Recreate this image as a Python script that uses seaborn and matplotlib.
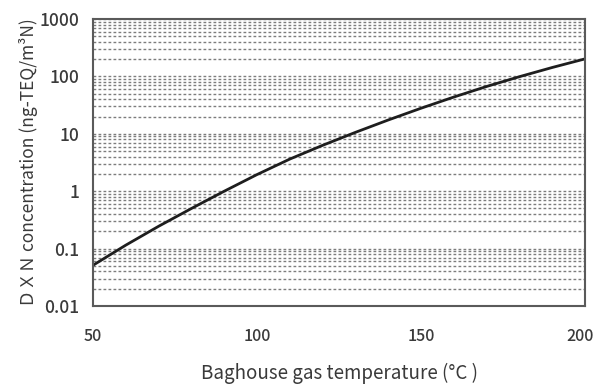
import matplotlib
matplotlib.use("Agg")
import matplotlib.pyplot as plt
import matplotlib.ticker as mticker
import matplotlib.transforms as mtransforms
import pandas as pd
import seaborn as sns

# values
temperature = [50, 60, 70, 80, 90, 100, 110, 120, 130, 140, 150, 160, 170, 180, 190, 200]
dxn_conc = [0.0513, 0.115, 0.245, 0.50, 1.0, 1.95, 3.63, 6.3, 10.6, 17.4, 27.9, 43.7, 66.8, 98.9, 143, 202]

y_ticks = [0.01, 0.1, 1, 10, 100, 1000]
y_tick_labels = ["0.01", "0.1", "1", "10", "100", "1000"]
x_ticks = [50, 100, 150, 200]

df = pd.DataFrame({"temp": temperature, "conc": dxn_conc})

sns.set_style("white")
plt.rcParams['font.family'] = ['Noto Sans CJK JP', 'DejaVu Sans']

fig = plt.figure(figsize=(5.97, 3.88), dpi=100)
ax = fig.add_axes([0.1558, 0.2113, 0.8241, 0.7397])

sns.lineplot(data=df, x="temp", y="conc", ax=ax, color="#1e1e1e", linewidth=2.0)

ax.set_yscale("log")
ax.set_ylim(0.01, 1000)
ax.set_xlim(50, 200)
ax.set_yticks(y_ticks)
ax.set_yticklabels(y_tick_labels)
ax.yaxis.set_minor_locator(mticker.LogLocator(base=10, subs=range(2, 10), numticks=20))
ax.yaxis.set_minor_formatter(mticker.NullFormatter())
ax.set_xticks(x_ticks)

ax.grid(which="both", axis="y", color="#7d7d7d", linestyle=(0, (2.0, 1.6)), linewidth=1.0)
ax.grid(which="both", axis="x", visible=False)
ax.set_axisbelow(True)

for s in ax.spines.values():
    s.set_color("#5a5a5a")
    s.set_linewidth(1.5)

ax.tick_params(axis="y", which="both", length=0, pad=10, labelsize=12.5, labelcolor="#3a3a3a")
ax.tick_params(axis="x", which="major", direction="in", length=3, width=1, color="#555555",
               pad=16, labelsize=11.5, labelcolor="#3a3a3a")
for lab in ax.get_xticklabels() + ax.get_yticklabels():
    lab.set_fontweight("medium")

# nudge the last x label so it stays inside the figure
last = ax.get_xticklabels()[-1]
last.set_transform(last.get_transform() + mtransforms.ScaledTranslation(-5 / 100, 0, fig.dpi_scale_trans))

ax.set_xlabel("Baghouse gas temperature (°C )", fontsize=13.5, color="#3a3a3a", labelpad=13)
ax.set_ylabel("ＤＸＮ concentration (ng-TEQ/m³N)", fontsize=12.5, color="#3a3a3a", labelpad=1)

fig.savefig("out.png", dpi=100)
